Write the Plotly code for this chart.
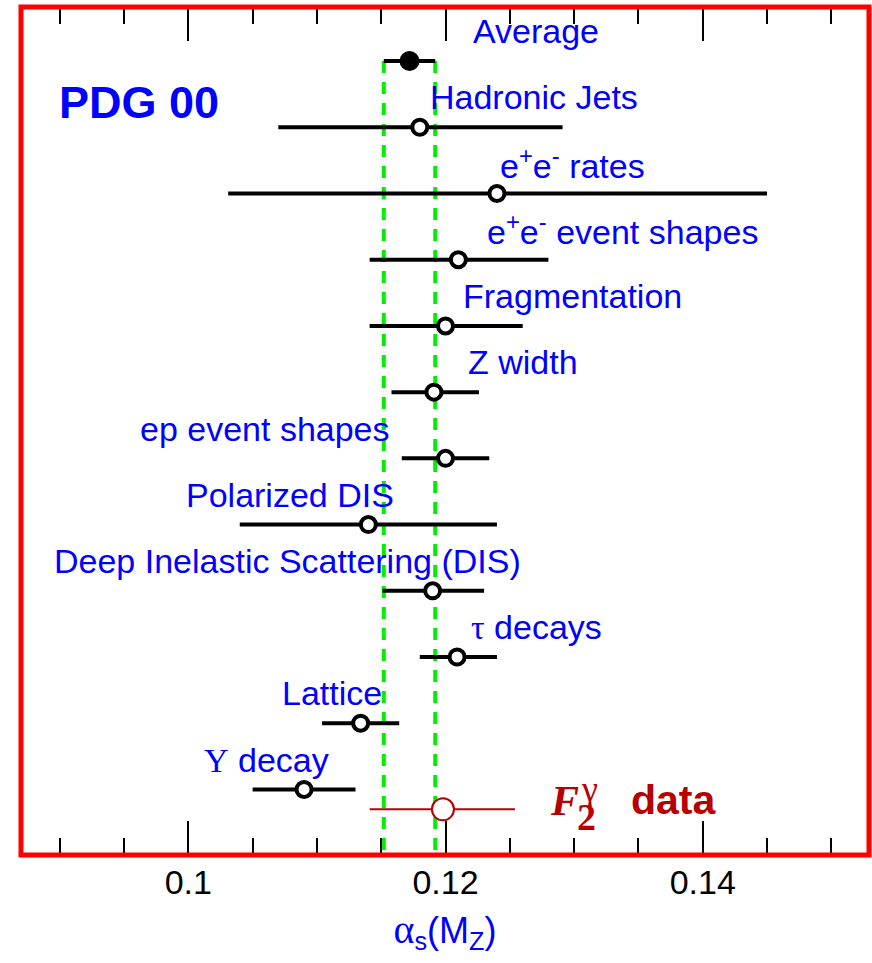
import plotly.graph_objects as go

# ---------------- data ----------------
labels = ["Average", "Hadronic Jets", "e<sup>+</sup>e<sup>-</sup> rates",
          "e<sup>+</sup>e<sup>-</sup> event shapes", "Fragmentation", "Z width",
          "ep event shapes", "Polarized DIS", "Deep Inelastic Scattering (DIS)",
          "<span style='font-family:Liberation Serif'>τ</span> decays", "Lattice",
          "<span style='font-family:Liberation Serif'>Υ</span> decay"]
values = [0.1172, 0.1180, 0.1240, 0.1210, 0.1200, 0.1191, 0.1200, 0.1140, 0.1190, 0.1209, 0.1134, 0.1090]
lows   = [0.1152, 0.1070, 0.1031, 0.1141, 0.1141, 0.1158, 0.1166, 0.1040, 0.1151, 0.1180, 0.1104, 0.1050]
highs  = [0.1192, 0.1291, 0.1450, 0.1280, 0.1260, 0.1226, 0.1234, 0.1240, 0.1230, 0.1240, 0.1164, 0.1130]

f2_value = 0.1198
f2_low = 0.1141
f2_high = 0.1254

tick_vals = [0.10, 0.12, 0.14]
tick_text = ["0.1", "0.12", "0.14"]
minor_step = 0.005

# label anchor x (left edge, data units) - layout only
label_x = [0.1220, 0.1186, 0.1241, 0.1231, 0.1212, 0.1216, 0.0961, 0.0997, 0.0894, 0.1218, 0.1071, 0.1011]

BLUE = "#0000ff"
DARKRED = "#b80000"
GREEN = "#00ee00"
SANS = "Liberation Sans, Arial, sans-serif"
SERIF = "Liberation Serif, Times New Roman, serif"

rows = list(range(len(labels)))
f2_row = 11.30
x_range = [0.08699, 0.15293]

fig = go.Figure()

# green band lines at the average +/- error
avg_lo, avg_hi = lows[0], highs[0]
for xv in (avg_lo, avg_hi):
    fig.add_shape(type="line", xref="x", yref="y", x0=xv, x1=xv, y0=rows[0], y1=11.99,
                  line=dict(color=GREEN, width=4, dash="12px,9px"), layer="below")

# measurements (open circles)
fig.add_trace(go.Scatter(
    x=values[1:], y=rows[1:], mode="markers",
    error_x=dict(type="data", symmetric=False,
                 array=[h - v for h, v in zip(highs[1:], values[1:])],
                 arrayminus=[v - l for l, v in zip(lows[1:], values[1:])],
                 thickness=4, width=0, color="black"),
    marker=dict(symbol="circle", size=15, color="white", line=dict(color="black", width=4)),
    showlegend=False, hoverinfo="skip"))

# average (filled)
fig.add_trace(go.Scatter(
    x=[values[0]], y=[rows[0]], mode="markers",
    error_x=dict(type="data", symmetric=False, array=[highs[0] - values[0]],
                 arrayminus=[values[0] - lows[0]], thickness=4, width=0, color="black"),
    marker=dict(symbol="circle", size=20, color="black"),
    showlegend=False, hoverinfo="skip"))

# F2 gamma data
fig.add_trace(go.Scatter(
    x=[f2_value], y=[f2_row], mode="markers",
    error_x=dict(type="data", symmetric=False, array=[f2_high - f2_value],
                 arrayminus=[f2_value - f2_low], thickness=2, width=0, color=DARKRED),
    marker=dict(symbol="circle", size=22, color="white", line=dict(color=DARKRED, width=2)),
    showlegend=False, hoverinfo="skip"))

# invisible traces to anchor the top tick axes
for ax in ("x2", "x3"):
    fig.add_trace(go.Scatter(x=[values[0]], y=[rows[0]], xaxis=ax, yaxis="y", mode="markers",
                             marker=dict(opacity=0), showlegend=False, hoverinfo="skip"))

# labels
for lab, lx, r in zip(labels, label_x, rows):
    fig.add_annotation(x=lx, y=r - 0.45, xref="x", yref="y", text=lab, showarrow=False,
                       xanchor="left", yanchor="middle",
                       font=dict(family=SANS, size=34, color=BLUE))

# PDG 00
fig.add_annotation(x=0.043, y=0.887, xref="paper", yref="paper", text="<b>PDG 00</b>",
                   showarrow=False, xanchor="left", yanchor="middle",
                   font=dict(family=SANS, size=45, color=BLUE))

# F2 gamma label
fig.add_annotation(x=0.12800, y=11.17, xref="x", yref="y", text="<b><i>F</i></b>", showarrow=False,
                   xanchor="left", yanchor="middle", font=dict(family=SERIF, size=42, color=DARKRED))
fig.add_annotation(x=0.13007, y=11.42, xref="x", yref="y", text="<b>2</b>", showarrow=False,
                   xanchor="left", yanchor="middle", font=dict(family=SERIF, size=38, color=DARKRED))
fig.add_annotation(x=0.13037, y=11.00, xref="x", yref="y", text="γ", showarrow=False,
                   xanchor="left", yanchor="middle", font=dict(family=SERIF, size=36, color=DARKRED))
fig.add_annotation(x=0.1343, y=11.16, xref="x", yref="y", text="<b>data</b>", showarrow=False,
                   xanchor="left", yanchor="middle", font=dict(family=SANS, size=41, color=DARKRED))

# red frame
fig.add_shape(type="rect", xref="paper", yref="paper", x0=0, x1=1, y0=0, y1=1,
              line=dict(color="red", width=5), layer="above")

fig.update_layout(
    width=872, height=963,
    margin=dict(l=21, r=3, t=7, b=108),
    paper_bgcolor="white", plot_bgcolor="white",
    showlegend=False,
    xaxis=dict(range=x_range, tickvals=tick_vals, ticktext=tick_text, ticklabelstandoff=4,
               ticks="inside", ticklen=34, tickwidth=2, tickcolor="black",
               minor=dict(dtick=minor_step, tick0=0.0, ticks="inside", ticklen=17, tickwidth=2,
                          tickcolor="black"),
               showline=False, showgrid=False, zeroline=False,
               tickfont=dict(family=SANS, size=34, color="black"),
               title=dict(text="<span style='font-family:Liberation Serif;font-size:40px'>α</span><sub>s</sub>(M<sub>Z</sub>)",
                          font=dict(family=SANS, size=36, color=BLUE), standoff=17)),
    xaxis2=dict(range=x_range, overlaying="x", side="top", anchor="y", tickvals=tick_vals,
                ticks="inside", ticklen=34, tickwidth=2, tickcolor="black",
                showticklabels=False, showgrid=False, zeroline=False, showline=False),
    xaxis3=dict(range=x_range, overlaying="x", side="top", anchor="y", dtick=minor_step, tick0=0.0,
                ticks="inside", ticklen=17, tickwidth=2, tickcolor="black",
                showticklabels=False, showgrid=False, zeroline=False, showline=False),
    yaxis=dict(range=[11.99, -0.816], showticklabels=False, ticks="", showgrid=False,
               zeroline=False, showline=False),
)

fig.write_html("out.html")
